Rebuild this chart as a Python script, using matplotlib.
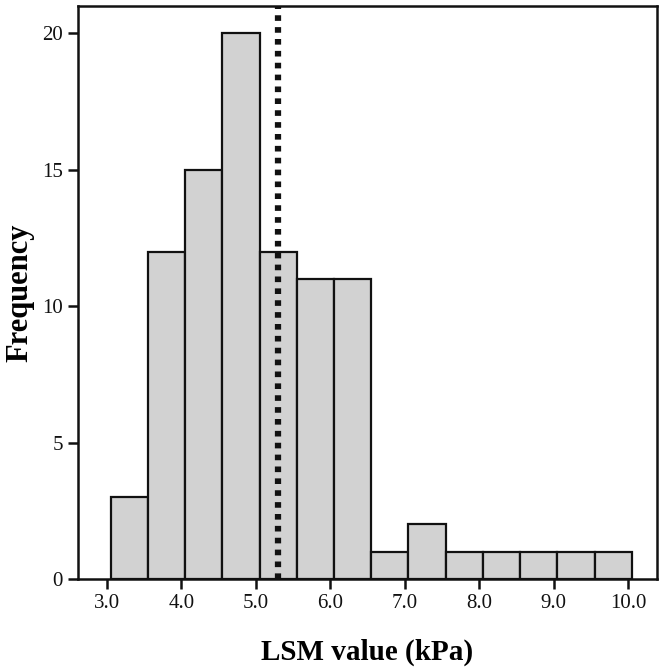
import numpy as np
import matplotlib.pyplot as plt

# histogram data
bin_left = [3.05, 3.55, 4.05, 4.55, 5.05, 5.55, 6.05, 6.55, 7.05, 7.55, 8.05, 8.55, 9.05, 9.55]
counts = [3, 12, 15, 20, 12, 11, 11, 1, 2, 1, 1, 1, 1, 1]
bin_width = 0.5
cutoff = 5.3
xticks = [3.0, 4.0, 5.0, 6.0, 7.0, 8.0, 9.0, 10.0]
yticks = [0, 5, 10, 15, 20]

plt.rcParams['font.family'] = ['Liberation Serif', 'DejaVu Serif']

fig = plt.figure(figsize=(6.64, 6.69), dpi=100)
ax = fig.add_axes([0.1175, 0.1345, 0.872, 0.8565])

ax.bar(bin_left, counts, width=bin_width, align='edge',
       color='#d2d2d2', edgecolor='#111111', linewidth=1.6, zorder=2)
ax.axvline(cutoff, color='#111111', linewidth=4.5, linestyle=(0, (0.9, 1.0)), zorder=3)

ax.set_xlim(2.61, 10.39)
ax.set_ylim(0, 21)
ax.set_xticks(xticks)
ax.set_xticklabels(['%.1f' % v for v in xticks])
ax.set_yticks(yticks)

for s in ax.spines.values():
    s.set_linewidth(1.8)
    s.set_color('#111111')
ax.tick_params(direction='out', length=7, width=1.8, labelsize=15, colors='#111111', pad=4)

ax.set_xlabel('LSM value (kPa)', fontsize=21, fontweight='bold', labelpad=18)
ax.set_ylabel('Frequency', fontsize=22, fontweight='bold', va='center')
ax.yaxis.set_label_coords(-0.100, 0.5)

fig.savefig('out.png', dpi=100)
